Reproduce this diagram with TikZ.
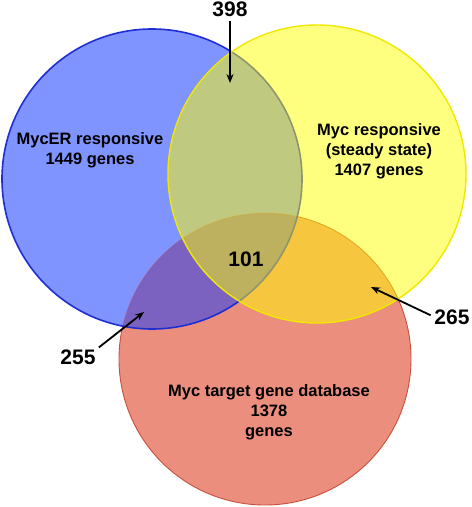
\documentclass[tikz,border=0pt]{standalone}
\usepackage{fontspec}
\setmainfont{Liberation Sans}
\usetikzlibrary{arrows.meta}
\definecolor{redfill}{RGB}{235,142,125}
\definecolor{redline}{RGB}{200,80,60}
\definecolor{bluefill}{RGB}{128,148,255}
\definecolor{blueredfill}{RGB}{123,98,192}
\definecolor{blueline}{RGB}{30,46,210}
\definecolor{yelfill}{RGB}{255,255,0}
\definecolor{yelline}{RGB}{240,232,0}
\tikzset{
  setlabel/.style={font=\bfseries\fontsize{16.5}{20}\selectfont, align=center, inner sep=0pt},
  numlabel/.style={font=\bfseries\fontsize{21}{24}\selectfont, inner sep=0pt},
  arr/.style={line width=1.8pt, -{Stealth[length=9pt,width=7pt]}, shorten <=4pt}
}
\begin{document}
\begin{tikzpicture}[x=1pt,y=-1pt]
\useasboundingbox (0,0) rectangle (472,507);
% red circle (bottom layer)
\fill[redfill] (265,359) circle[radius=146pt];
\draw[redline, line width=0.9pt] (265,359) circle[radius=146pt];
% blue circle
\fill[bluefill] (152,179) circle[radius=150pt];
\begin{scope}
  \clip (265,359) circle[radius=146pt];
  \fill[blueredfill] (152,179) circle[radius=150pt];
\end{scope}
\begin{scope}
  \clip (152,179) circle[radius=150pt];
  \draw[redline, line width=0.9pt, draw opacity=0.3] (265,359) circle[radius=146pt];
\end{scope}
\draw[blueline, line width=1.6pt] (152,179) circle[radius=150pt];
% yellow circle (top, translucent)
\fill[yelfill, fill opacity=0.5] (317,174) circle[radius=149pt];
\draw[yelline, line width=1.4pt] (317,174) circle[radius=149pt];
% set labels
\node[setlabel] (mycer) at (90,150) {MycER responsive\\1449 genes};
\node[setlabel] (mycss) at (379,151) {Myc responsive\\(steady state)\\1407 genes};
\node[setlabel] (mycdb) at (269,412.5) {Myc target gene database\\1378\\genes};
% numbers
\node[numlabel] (n398) at (230,9) {398};
\node[numlabel] (n101) at (246,259) {101};
\node[numlabel] (n265) at (452,317) {265};
\node[numlabel] (n255) at (78,357.5) {255};
\coordinate (t398) at (230,83);
\coordinate (t265) at (371,287);
\coordinate (t255) at (144,312);
\draw[arr] (n398.south) -- (t398);
\draw[arr] (n265.west) -- (t265);
\draw[arr] (n255.north east) -- (t255);
\end{tikzpicture}
\end{document}
